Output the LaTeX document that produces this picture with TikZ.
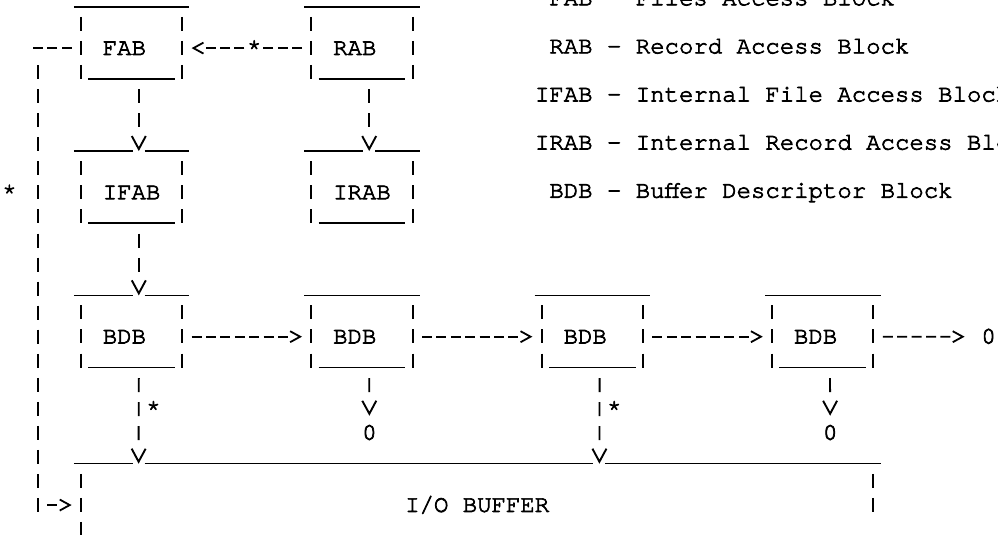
\documentclass[tikz,border=0pt]{standalone}
\usepackage{fontspec}
\newfontfamily\cur[FakeBold=3]{TeX Gyre Cursor}
\usetikzlibrary{arrows.meta}
\tikzset{
  chfont/.style={font={\cur\fontsize{24pt}{24pt}\selectfont}},
  txt/.style={chfont, inner sep=0pt, anchor=base west, text height=13.7pt, text depth=0pt},
  blk/.style={chfont, text width=57.6pt, align=left, inner xsep=21.6pt, inner ysep=0pt,
              text height=13.7pt, text depth=0pt, minimum height=82.3pt},
  buf/.style={chfont, inner sep=0pt, minimum width=792pt, text height=13.7pt,
              text depth=0pt, minimum height=82.3pt},
  ul/.style={line width=1.6pt},
  pp/.style={line width=1.9pt, dash pattern=on 14pt off 10.05pt},
  hc/.style={line width=1.8pt},
  vc/.style={line width=1.9pt},
  htip/.style={-{Straight Barb[length=10pt,width=11pt]}},
  vtip/.style={-{Straight Barb[length=13pt,width=14pt]}},
  hdone/.style={dash pattern=on 10pt off 200pt},
  hdfive/.style={dash pattern=on 10pt off 4.4pt on 10pt off 4.4pt on 10pt off 4.4pt on 10pt off 4.4pt on 10pt off 200pt},
  hdseven/.style={dash pattern=on 10pt off 4.4pt on 10pt off 4.4pt on 10pt off 4.4pt on 10pt off 4.4pt on 10pt off 4.4pt on 10pt off 4.4pt on 10pt off 200pt},
  hdstar/.style={dash pattern=on 10pt off 4.4pt on 10pt off 4.4pt on 10pt off 18.8pt on 10pt off 4.4pt on 10pt off 4.4pt on 10pt off 200pt},
  vpone/.style={dash pattern=on 14pt off 300pt},
  vptwo/.style={dash pattern=on 14pt off 10.05pt on 14pt off 300pt},
  vpthree/.style={dash pattern=on 14pt off 10.05pt on 14pt off 10.05pt on 14pt off 300pt},
}
\newcommand\bxtop[1]{\draw[ul] ([xshift=-7.2pt]#1.north west) -- ([xshift=7.2pt]#1.north east);}
\newcommand\bxtopv[1]{\draw[ul] ([xshift=-7.2pt]#1.north west) -- ([xshift=51.6pt]#1.north west);
  \draw[ul] ([xshift=63.6pt]#1.north west) -- ([xshift=7.2pt]#1.north east);}
\newcommand\bxsides[1]{\draw[pp] ([yshift=-10.1pt]#1.north west) -- ++(0pt,-62.1pt);
  \draw[pp] ([yshift=-10.1pt]#1.north east) -- ++(0pt,-62.1pt);
  \draw[ul] ([xshift=7.2pt,yshift=-72.15pt]#1.north west) -- ([xshift=-7.2pt,yshift=-72.15pt]#1.north east);}
\begin{document}
\begin{tikzpicture}[x=14.4pt,y=-24.05pt]
\useasboundingbox (-0.639,0) rectangle (68.667,22.245);
\clip (-0.639,0) rectangle (68.667,22.245);

% blocks
\node[blk] (fab) at (8.5,2) {FAB};
\node[blk] (rab) at (24.5,2) {RAB};
\node[blk] (ifab) at (8.5,8) {IFAB};
\node[blk] (irab) at (24.5,8) {IRAB};
\node[blk] (b1) at (8.5,14) {BDB};
\node[blk] (b2) at (24.5,14) {BDB};
\node[blk] (b3) at (40.5,14) {BDB};
\node[blk] (b4) at (56.5,14) {BDB};
\node[buf] (bf) at (32.5,21) {I/O BUFFER};

% block outlines
\bxtop{fab} \bxtop{rab} \bxtopv{ifab} \bxtopv{irab} \bxtopv{b1}
\bxtop{b2} \bxtop{b3} \bxtop{b4}
\bxsides{fab} \bxsides{rab} \bxsides{ifab} \bxsides{irab}
\bxsides{b1} \bxsides{b2} \bxsides{b3} \bxsides{b4}
\draw[ul] ([xshift=-7.2pt]bf.north west) -- ([xshift=51.6pt]bf.north west);
\draw[ul] ([xshift=63.6pt]bf.north west) -- ([xshift=512.4pt]bf.north west);
\draw[ul] ([xshift=524.4pt]bf.north west) -- ([xshift=7.2pt]bf.north east);
\draw[pp] ([yshift=-10.1pt]bf.north west) -- ++(0pt,-62.1pt);
\draw[pp] ([yshift=-10.1pt]bf.north east) -- ++(0pt,-38.05pt);

% small texts
\node[txt] (s0) at (-0.5,8.285) {*};
\node[txt] (sm) at (16.5,2.285) {*};
\node[txt] (s1) at (9.5,17.285) {*};
\node[txt] (s3) at (41.5,17.285) {*};
\node[txt] (z2) at (24.5,18.285) {0};
\node[txt] (z4) at (56.5,18.285) {0};
\node[txt] (zr) at (67.5,14.285) {0};
\coordinate (lc1) at (2,2);
\coordinate (lc2) at (2,21);

% legend
\node[txt] (l1) at (37.5,0.22) {FAB - Files Access Block};
\node[txt] (l2) at (37.5,2.22) {RAB - Record Access Block};
\node[txt] (l3) at (36.5,4.22) {IFAB - Internal File Access Block};
\node[txt] (l4) at (36.5,6.22) {IRAB - Internal Record Access Block};
\node[txt] (l5) at (37.5,8.22) {BDB - Buffer Descriptor Block};

% horizontal connectors
\draw[hc, hdstar, htip, shorten <=9.4pt, shorten >=9.4pt] (rab.west) -- (fab.east);
\draw[hc, dash pattern=on 10pt off 4.4pt, shorten <=9.4pt, shorten >=-5pt] (fab.west) -- (lc1);
\draw[pp, shorten <=17.1pt, shorten >=-7pt] (lc1) -- (lc2);
\draw[hc, hdone, htip, shorten <=9.4pt, shorten >=9.4pt] (lc2) -- (bf.west);
\draw[hc, hdseven, htip, shorten <=9.4pt, shorten >=9.4pt] (b1.east) -- (b2.west);
\draw[hc, hdseven, htip, shorten <=9.4pt, shorten >=9.4pt] (b2.east) -- (b3.west);
\draw[hc, hdseven, htip, shorten <=9.4pt, shorten >=9.4pt] (b3.east) -- (b4.west);
\draw[hc, hdfive, htip, shorten <=9.4pt, shorten >=16.6pt] (b4.east) -- (zr.west);

% vertical connectors
\draw[vc, vptwo, vtip] ([xshift=7.2pt]fab.south) -- ([xshift=7.2pt]ifab.north);
\draw[vc, vptwo, vtip] ([xshift=7.2pt]rab.south) -- ([xshift=7.2pt]irab.north);
\draw[vc, vptwo, vtip] ([xshift=7.2pt]ifab.south) -- ([xshift=7.2pt]b1.north);
\draw[vc, vpthree, vtip] ([xshift=7.2pt]b1.south) -- ([xshift=57.6pt]bf.north west);
\draw[vc, vpthree, vtip] ([xshift=7.2pt]b3.south) -- ([xshift=518.4pt]bf.north west);
\draw[vc, vpone, vtip, shorten >=10.1pt] ([xshift=7.2pt]b2.south) -- (z2.north);
\draw[vc, vpone, vtip, shorten >=10.1pt] ([xshift=7.2pt]b4.south) -- (z4.north);
\end{tikzpicture}
\end{document}
